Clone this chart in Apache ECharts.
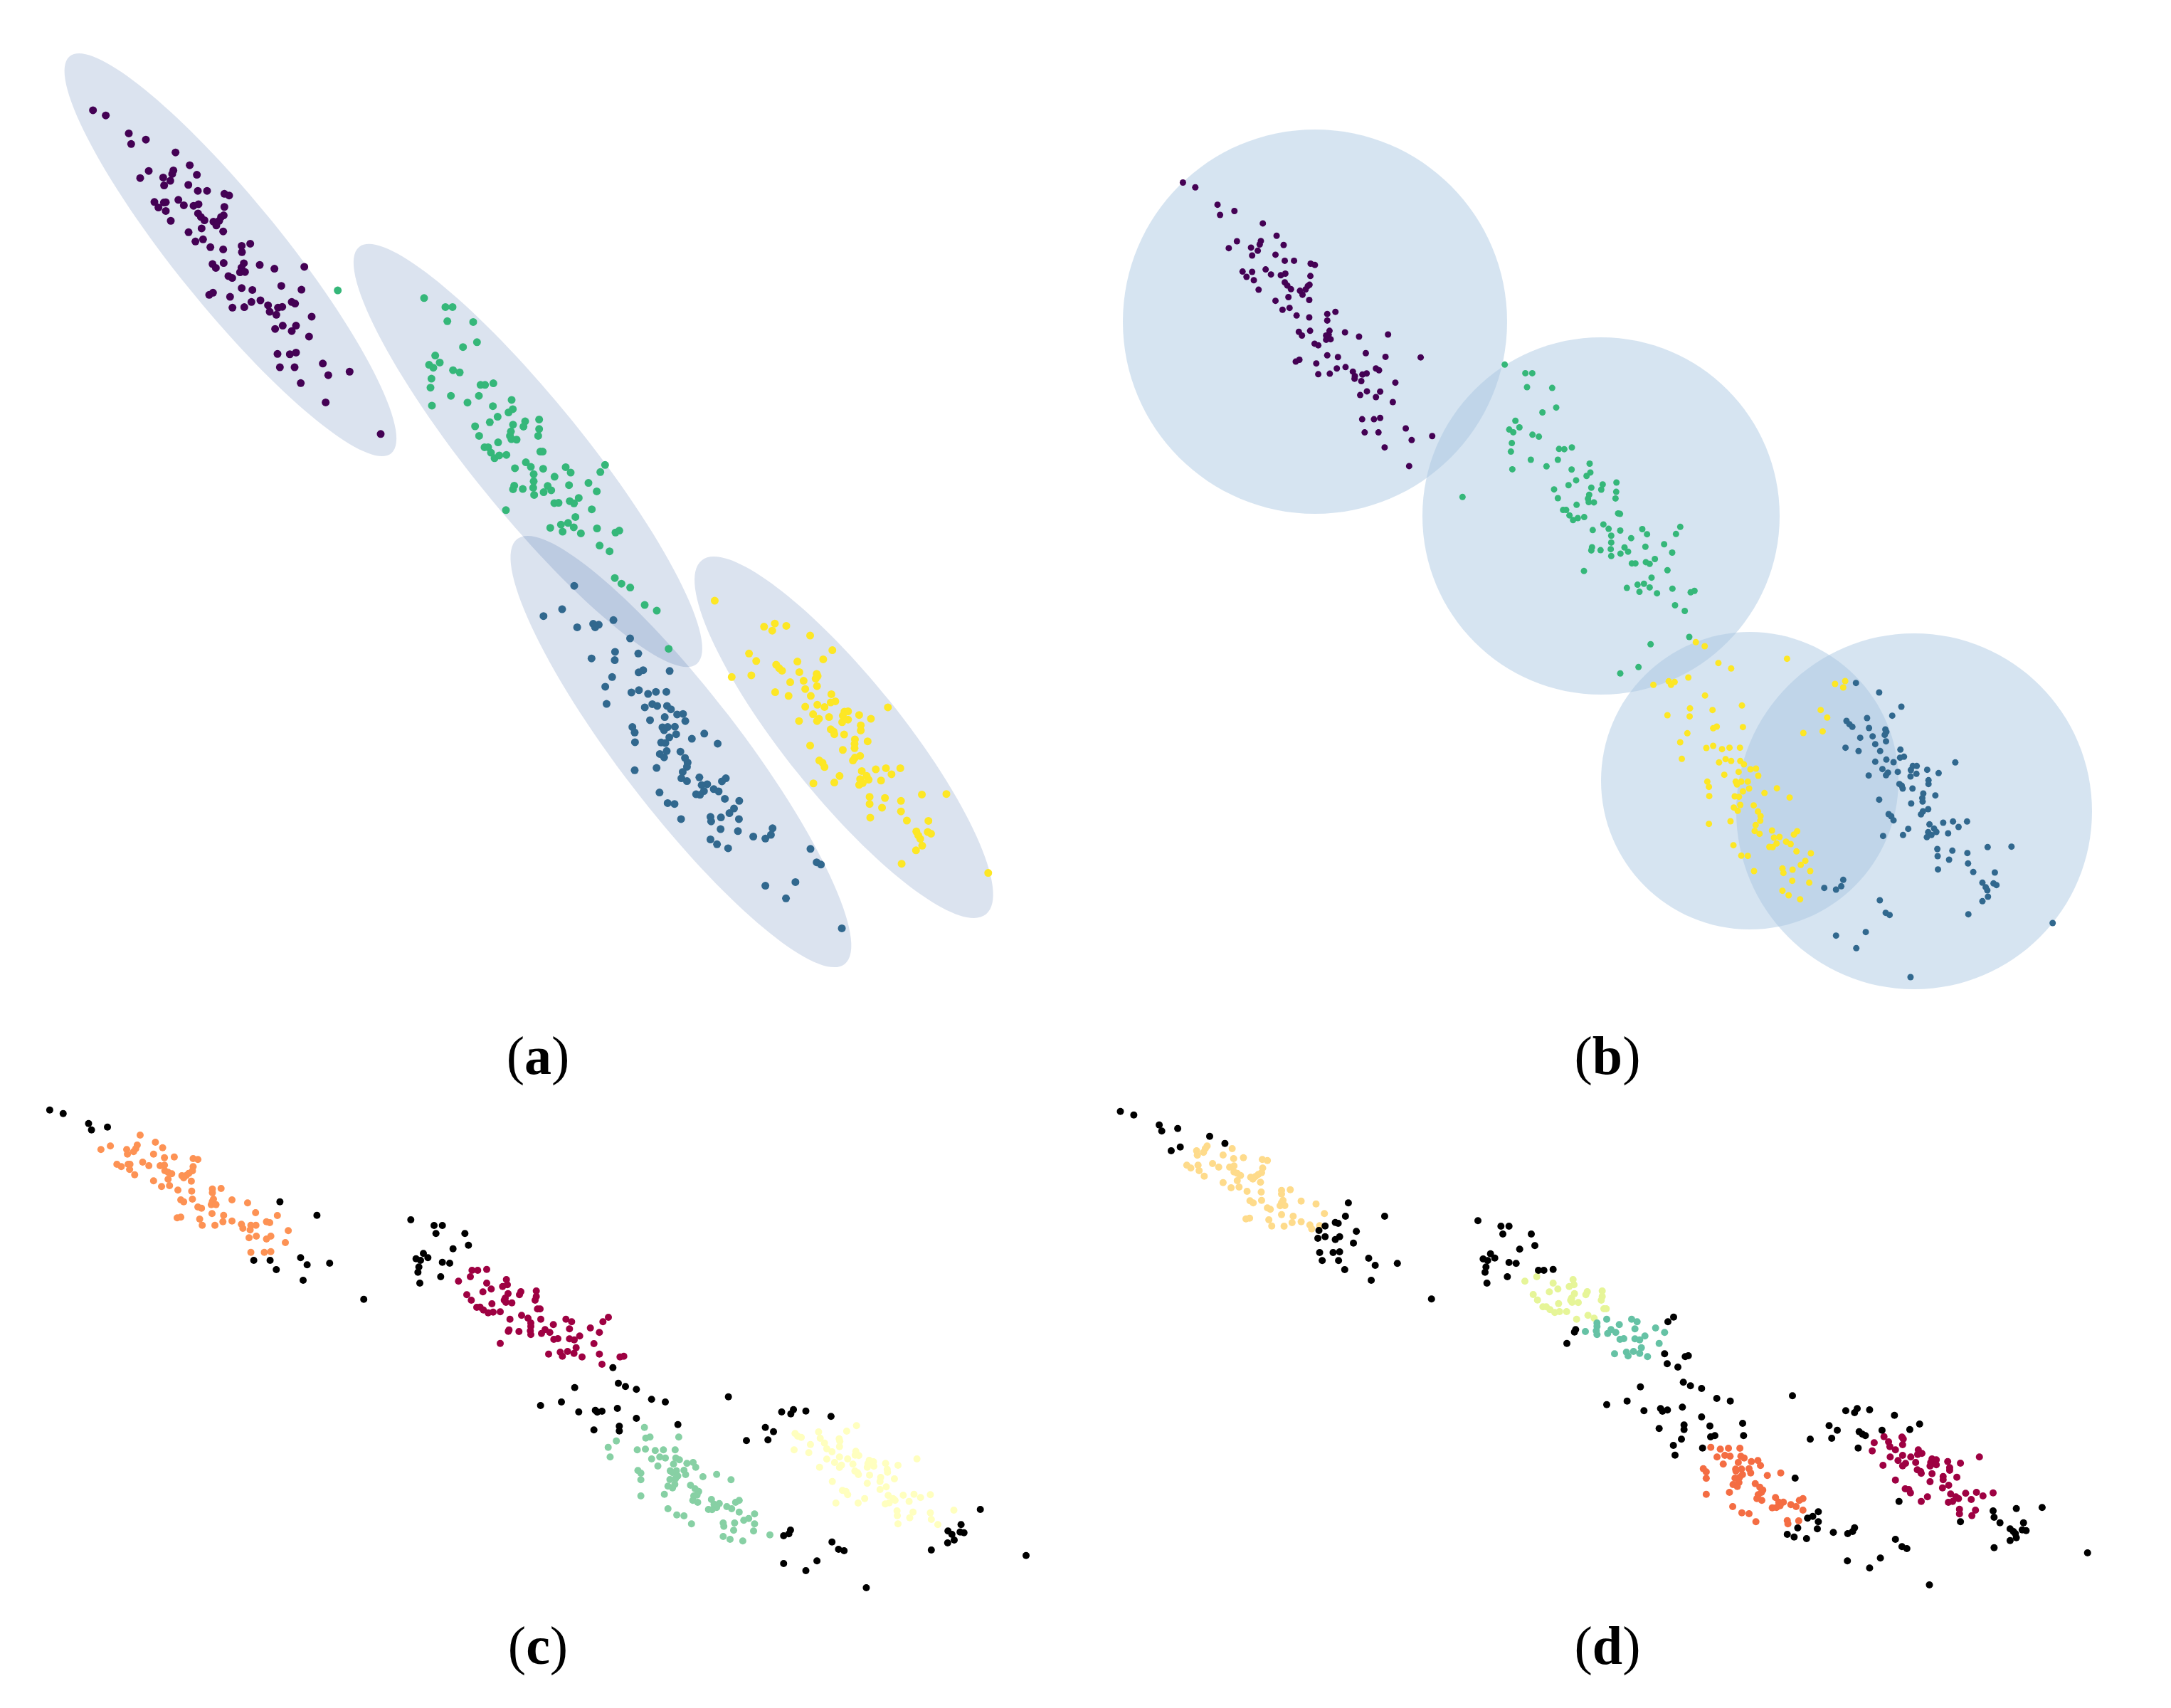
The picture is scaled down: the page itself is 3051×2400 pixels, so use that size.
<!DOCTYPE html>
<html>
<head>
<meta charset="utf-8">
<style>
html, body { margin: 0; padding: 0; background: #fff; }
#main { width: 3051px; height: 2400px; }
</style>
<script src="https://cdn.jsdelivr.net/npm/echarts@6/dist/echarts.min.js"></script>
</head>
<body>
<div id="main"></div>
<script>
// points were read from enlarged crops, so each list is in its crop's reading units
// [left, top, units per px across, units per px down]
const cropA1 = [80, 60, 3, 1568 / 600];
const cropA2 = [480, 330, 3, 1568 / 600];
const cropA3 = [700, 750, 1568 / 720, 1568 / 630];
const cropB1 = [1560, 170, 1568 / 620, 1568 / 580];
const cropB2 = [2000, 470, 3, 1568 / 540];
const cropB3 = [2240, 880, 1568 / 720, 3];
const cropC1 = [50, 1540, 1.96, 3];
const cropC2 = [560, 1700, 3, 3];
const cropC3 = [750, 1940, 1568 / 720, 3];
const cropD1 = [1550, 1540, 1.96, 3];
const cropD2 = [2050, 1700, 3, 3];
const cropD3 = [2250, 1940, 1568 / 720, 3];

// panel (a)
const aPurple = [[152,248],[206,267],[303,333],[375,356],[313,372],[500,403],[560,450],[590,485],[387,471],[351,497],[448,495],[491,469],[486,482],[478,507],[452,524],[554,522],[594,544],[633,544],[706,555],[726,561],[411,585],[428,605],[451,587],[459,586],[459,618],[512,577],[535,597],[576,599],[597,593],[706,603],[480,654],[595,627],[607,640],[622,652],[703,634],[692,640],[684,654],[660,657],[672,671],[610,682],[555,696],[701,693],[584,730],[616,722],[647,751],[701,759],[779,746],[815,738],[780,769],[656,813],[670,827],[703,809],[788,810],[778,826],[772,843],[793,842],[855,816],[917,830],[1043,823],[723,857],[739,864],[779,901],[824,908],[946,893],[1031,907],[642,926],[658,918],[730,933],[740,973],[790,971],[820,952],[858,946],[890,964],[897,988],[925,999],[932,973],[950,970],[990,952],[1004,958],[1074,1006],[920,1051],[952,1039],[990,1059],[1008,1039],[1063,1079],[930,1143],[982,1144],[1008,1138],[1121,1178],[940,1192],[1002,1192],[1144,1221],[1234,1208],[1028,1250],[1133,1321],[1365,1437]];
const aGreen = [[-16,204],[348,232],[438,265],[468,265],[446,317],[555,320],[571,394],[512,412],[395,443],[369,477],[387,488],[414,469],[470,497],[498,505],[379,528],[375,561],[586,551],[605,551],[640,545],[461,591],[579,591],[531,616],[381,627],[638,629],[717,606],[722,640],[704,652],[658,668],[625,688],[563,703],[580,738],[723,697],[774,685],[767,704],[833,678],[833,713],[829,738],[714,722],[710,738],[716,750],[738,752],[660,762],[603,780],[618,780],[630,800],[645,820],[665,810],[695,808],[838,796],[848,796],[777,835],[798,852],[731,857],[850,859],[945,853],[966,873],[898,888],[810,879],[810,905],[808,929],[812,955],[728,921],[723,934],[764,933],[869,922],[884,938],[852,945],[959,919],[1041,911],[1076,942],[1111,845],[1091,871],[897,985],[915,984],[962,978],[980,986],[1000,966],[1055,1008],[693,1011],[986,1036],[955,1058],[925,1064],[880,1076],[932,1090],[979,1074],[1009,1096],[1077,1078],[1155,1093],[1171,1086],[1088,1141],[1130,1162],[1152,1260],[1180,1281],[1217,1295],[1278,1359],[1329,1380],[1379,1520]];
const aBlue = [[233,182],[196,264],[139,288],[242,327],[291,315],[308,318],[297,327],[353,302],[404,366],[358,413],[429,419],[357,442],[286,436],[430,485],[444,477],[525,480],[349,501],[328,535],[408,555],[431,547],[459,560],[483,553],[515,553],[332,595],[449,607],[472,596],[487,602],[517,602],[529,614],[548,632],[566,630],[510,641],[573,655],[465,652],[411,676],[418,695],[503,677],[508,687],[519,676],[541,675],[545,701],[524,712],[593,717],[631,699],[672,734],[419,729],[499,730],[512,732],[558,762],[516,760],[495,770],[508,782],[572,784],[580,800],[578,815],[565,833],[485,819],[418,827],[561,855],[578,865],[616,852],[697,855],[685,866],[640,876],[623,879],[630,900],[660,893],[675,901],[606,911],[618,913],[494,905],[694,927],[738,934],[519,942],[540,945],[722,961],[708,977],[560,998],[650,990],[652,1006],[682,992],[737,998],[681,1033],[734,1040],[840,1030],[835,1053],[818,1066],[781,1059],[650,1069],[670,1086],[704,1100],[956,1102],[975,1149],[988,1157],[910,1218],[818,1231],[881,1275],[1052,1380]];
const aYellow = [[663,234],[814,325],[847,314],[839,339],[882,322],[955,356],[1023,407],[995,439],[768,419],[790,445],[916,447],[851,458],[860,470],[869,479],[922,484],[975,490],[978,498],[972,507],[715,501],[775,495],[894,519],[935,514],[976,533],[940,543],[848,554],[889,567],[957,567],[1020,561],[1032,586],[1018,590],[940,605],[977,598],[999,606],[1193,607],[964,631],[1060,622],[1071,621],[1055,636],[1105,634],[1141,647],[1071,650],[1053,659],[1013,641],[982,647],[976,655],[921,655],[1110,670],[1110,688],[1018,684],[1027,692],[1029,701],[1059,702],[1131,726],[1092,719],[1091,735],[1091,750],[955,741],[1055,756],[1108,777],[1092,783],[1086,793],[983,793],[993,801],[999,816],[1113,830],[1156,824],[1187,820],[1231,820],[1204,841],[1045,847],[1128,847],[1134,860],[1108,858],[1172,863],[1116,872],[1105,878],[965,873],[1029,870],[1137,920],[1184,924],[1137,945],[1233,934],[1297,912],[1372,910],[1175,958],[1233,971],[1139,993],[1251,1003],[1317,1004],[1280,1041],[1286,1055],[1292,1067],[1315,1043],[1325,1049],[1298,1091],[1279,1107],[1235,1154],[1500,1186]];

// panel (b)
const bPurple = [[259,234],[303,252],[382,318],[442,342],[391,357],[543,389],[592,436],[617,471],[451,457],[422,483],[501,481],[536,456],[532,469],[525,493],[505,511],[588,508],[621,531],[654,531],[713,542],[728,547],[471,572],[485,592],[505,573],[511,605],[553,564],[572,583],[607,586],[623,580],[712,589],[528,641],[621,613],[630,625],[643,639],[709,622],[703,627],[695,640],[684,660],[675,645],[634,669],[588,683],[708,680],[613,717],[638,710],[663,739],[708,746],[772,733],[801,725],[772,758],[671,801],[682,815],[711,797],[780,797],[777,812],[768,815],[768,831],[784,829],[835,803],[885,819],[988,811],[727,846],[740,852],[772,890],[810,897],[909,882],[979,896],[1104,898],[660,914],[673,907],[733,921],[740,962],[781,960],[806,940],[837,935],[863,952],[870,969],[869,979],[893,988],[897,963],[912,959],[945,940],[956,947],[1014,994],[889,1041],[913,1027],[945,1049],[960,1028],[1005,1068],[896,1133],[938,1133],[960,1128],[1051,1168],[905,1183],[954,1183],[1072,1212],[1145,1197],[976,1240],[1063,1311]];
const bGreen = [[344,123],[431,158],[460,158],[438,215],[544,218],[561,298],[503,318],[389,352],[363,388],[380,399],[406,379],[461,409],[488,417],[374,443],[370,478],[573,467],[595,468],[627,461],[454,511],[568,511],[520,538],[376,550],[626,551],[702,527],[705,563],[689,577],[645,595],[613,615],[552,632],[568,668],[709,625],[757,612],[751,633],[815,604],[814,642],[811,669],[700,654],[695,670],[698,684],[720,685],[647,695],[590,716],[603,716],[617,738],[632,757],[652,749],[679,745],[822,730],[830,732],[760,775],[782,793],[715,798],[831,800],[924,794],[944,815],[877,831],[793,821],[793,849],[791,876],[793,904],[712,868],[709,881],[748,880],[849,869],[864,886],[832,894],[937,866],[1016,856],[1050,890],[1084,785],[1066,814],[880,934],[895,934],[939,929],[955,936],[977,916],[1030,962],[678,965],[963,992],[931,1017],[904,1021],[859,1034],[912,1050],[955,1032],[986,1056],[1051,1037],[1128,1052],[1144,1046],[1062,1105],[1103,1128],[1122,1234],[959,1264],[908,1357],[831,1383],[166,663]];
const bYellow = [[312,67],[339,84],[591,137],[381,155],[420,178],[289,216],[182,247],[229,232],[236,247],[247,235],[340,292],[769,231],[738,243],[763,258],[453,334],[294,346],[363,353],[293,380],[225,375],[694,353],[714,385],[456,425],[376,423],[365,430],[286,451],[641,450],[700,443],[264,489],[344,513],[365,504],[392,518],[415,512],[447,512],[269,559],[383,574],[403,560],[420,568],[448,568],[459,582],[496,600],[479,603],[443,614],[399,626],[503,630],[347,655],[352,677],[434,655],[451,655],[471,655],[438,667],[475,684],[456,696],[560,683],[522,703],[599,722],[353,716],[431,717],[444,719],[448,753],[428,764],[440,778],[489,755],[502,781],[510,800],[509,820],[495,838],[352,833],[418,822],[492,863],[507,875],[545,861],[622,864],[612,878],[551,891],[568,888],[588,908],[602,918],[559,916],[537,930],[547,931],[427,923],[620,949],[664,957],[451,967],[471,968],[647,989],[633,1006],[490,1032],[577,1021],[580,1040],[608,1026],[662,1032],[607,1073],[659,1081],[577,1115],[596,1134],[631,1151]];
const bBlue = [[802,239],[873,279],[941,339],[913,377],[836,387],[773,399],[782,413],[791,424],[842,429],[892,435],[895,445],[890,458],[853,464],[815,470],[894,485],[861,497],[770,512],[810,526],[876,526],[938,520],[949,550],[937,554],[861,571],[895,562],[917,573],[1106,574],[976,589],[988,589],[970,606],[883,602],[900,617],[894,628],[930,614],[1020,605],[987,622],[969,633],[1055,619],[841,629],[1024,649],[1024,665],[935,665],[942,672],[945,684],[975,684],[1008,705],[1045,713],[1005,724],[1006,739],[873,731],[971,747],[1023,771],[1007,780],[1001,793],[902,792],[910,801],[917,818],[1027,835],[1069,828],[1099,823],[1142,823],[1116,846],[962,854],[1041,853],[1048,867],[1023,868],[1084,873],[885,884],[946,880],[1033,880],[1019,889],[1051,939],[1097,946],[1143,956],[1205,931],[1278,929],[1052,969],[1087,984],[1145,1000],[1053,1025],[1161,1036],[1227,1038],[763,1069],[757,1096],[741,1110],[705,1103],[1189,1081],[1199,1100],[1204,1113],[1223,1084],[1232,1091],[1206,1140],[1189,1159],[875,1155],[893,1208],[905,1217],[1146,1214],[1404,1251],[832,1289],[741,1304],[803,1357],[969,1479]];

// panel (c)
const cOrange = [[288,165],[330,195],[350,218],[180,226],[206,211],[251,226],[280,207],[276,222],[270,235],[253,245],[325,245],[355,260],[382,257],[434,264],[447,268],[224,288],[236,298],[255,288],[260,288],[259,310],[295,279],[312,294],[343,294],[355,292],[434,298],[356,315],[365,322],[375,328],[432,316],[422,326],[415,335],[403,336],[408,345],[273,332],[429,359],[325,358],[365,351],[347,382],[369,378],[392,397],[430,401],[487,392],[487,408],[511,390],[400,438],[408,446],[432,435],[490,435],[487,445],[484,458],[497,458],[541,438],[584,451],[447,468],[457,473],[486,496],[606,492],[518,503],[666,504],[390,514],[400,511],[452,519],[459,545],[494,545],[516,530],[541,527],[636,530],[645,534],[567,541],[571,558],[593,545],[607,545],[591,565],[696,568],[588,598],[608,591],[648,591],[636,603],[688,618],[593,659],[630,659],[648,656]];
const cCrimson = [[310,255],[334,255],[372,251],[303,282],[253,301],[455,294],[372,309],[459,316],[439,323],[391,334],[356,346],[288,358],[462,353],[516,345],[510,358],[581,342],[581,365],[576,381],[450,372],[446,381],[453,390],[478,392],[307,381],[394,396],[330,411],[344,410],[358,422],[378,434],[399,431],[429,430],[586,418],[597,418],[470,461],[519,445],[546,457],[600,461],[706,461],[730,472],[558,477],[558,491],[653,484],[721,502],[809,498],[862,472],[885,453],[463,512],[466,506],[508,513],[556,510],[558,526],[618,505],[603,521],[638,517],[847,517],[764,532],[655,546],[672,543],[721,544],[741,548],[824,564],[429,563],[749,581],[633,608],[682,600],[691,617],[713,597],[740,605],[774,620],[847,608],[934,620],[950,617],[858,651]];
const cGreen = [[339,197],[444,238],[343,242],[356,238],[253,254],[228,281],[317,292],[342,289],[372,295],[397,292],[433,292],[234,322],[361,330],[386,322],[403,326],[435,326],[446,334],[428,352],[469,349],[488,345],[496,365],[380,360],[319,379],[328,390],[418,380],[425,388],[437,380],[460,378],[465,396],[441,402],[328,418],[417,417],[434,413],[518,405],[560,395],[604,418],[411,445],[432,437],[425,452],[480,441],[494,456],[505,467],[400,479],[328,486],[490,486],[500,482],[487,505],[502,513],[544,501],[552,521],[568,518],[629,505],[618,513],[591,531],[606,540],[560,535],[535,543],[546,544],[411,540],[629,554],[676,562],[658,581],[643,589],[438,566],[460,570],[483,604],[580,600],[582,614],[615,600],[676,604],[612,631],[673,634],[580,657],[601,669],[640,676],[723,650]];
const cPale = [[988,190],[958,213],[872,216],[800,223],[808,234],[819,239],[877,243],[935,245],[937,256],[936,278],[847,269],[890,263],[897,287],[797,292],[842,304],[913,300],[986,298],[984,314],[995,316],[936,322],[897,331],[961,330],[1173,330],[921,345],[977,352],[942,356],[936,366],[875,365],[1027,336],[1040,342],[1023,350],[1041,361],[1021,365],[1077,349],[1115,357],[1082,374],[1083,386],[983,381],[991,388],[994,396],[1028,398],[1104,414],[1062,408],[1060,425],[1021,433],[914,425],[1079,448],[1060,459],[945,463],[956,467],[961,481],[1013,497],[1085,484],[1131,483],[1164,479],[1214,481],[1184,493],[1149,509],[1100,497],[1106,505],[1088,515],[1076,520],[925,516],[993,516],[1112,549],[1161,554],[1214,557],[1113,569],[1286,546],[1151,578],[1217,585],[1115,604],[1237,607]];
const cBlack1 = [[39,59],[76,74],[146,116],[154,143],[198,131],[673,446],[775,503],[601,693],[646,693],[730,682],[748,712],[810,705],[663,732],[737,777],[904,857]];
const cBlack2 = [[52,42],[150,66],[185,66],[158,100],[280,100],[295,149],[230,164],[105,184],[74,206],[93,213],[124,202],[185,221],[216,225],[86,241],[82,263],[178,282],[90,309],[904,665],[743,749],[927,731],[957,745],[1003,757],[1067,799],[1125,810],[1391,788],[599,825],[687,810],[760,852],[830,845],[838,853],[858,849],[923,837],[1003,879],[1178,905],[931,912],[931,932],[824,928],[1467,973]];
const cBlack3 = [[759,132],[787,140],[795,122],[833,128],[910,151],[709,197],[734,215],[717,250],[1367,543],[1308,607],[1268,634],[1280,648],[1287,672],[1267,684],[1305,638],[1317,641],[1217,714],[1507,737],[786,630],[781,646],[765,654],[913,680],[933,711],[950,717],[867,760],[765,771],[833,801],[1018,873]];

// panel (d)
const dPeach = [[356,222],[258,231],[287,211],[282,222],[277,238],[260,250],[331,249],[360,264],[387,260],[439,268],[453,272],[231,292],[242,304],[262,292],[265,315],[302,285],[319,300],[349,300],[361,295],[440,304],[361,320],[370,326],[379,335],[437,323],[428,331],[420,340],[407,343],[413,350],[279,338],[434,364],[331,365],[370,357],[353,387],[375,384],[397,402],[436,405],[492,398],[492,413],[516,395],[405,442],[414,451],[437,440],[496,440],[492,450],[488,463],[501,462],[546,443],[587,455],[453,472],[461,478],[492,500],[610,496],[524,507],[394,518],[404,515],[457,522],[465,548],[499,549],[521,534],[546,530],[570,544],[575,560],[597,547]];
const dLime = [[279,301],[329,282],[398,309],[482,294],[486,316],[466,323],[418,334],[382,346],[314,357],[488,353],[542,345],[536,358],[605,342],[605,365],[601,381],[476,372],[472,381],[478,390],[504,391],[332,380],[421,395],[355,409],[369,409],[385,421],[405,433],[425,429],[455,429],[612,417],[622,417],[497,461],[545,445],[571,457]];
const dTeal = [[624,461],[729,461],[752,472],[583,477],[583,491],[677,484],[743,502],[830,498],[534,513],[580,510],[583,526],[642,505],[628,521],[662,517],[868,517],[785,532],[680,546],[696,543],[743,544],[763,548],[845,563],[770,581],[657,607],[707,600],[714,616],[737,597],[763,605],[796,619]];
const dRed = [[336,281],[365,289],[390,285],[425,285],[355,322],[379,315],[395,319],[428,319],[438,326],[460,341],[480,337],[488,358],[420,345],[374,352],[313,371],[322,385],[412,373],[430,373],[413,381],[453,371],[458,389],[433,396],[550,389],[509,400],[322,412],[410,411],[424,408],[422,430],[404,438],[417,446],[472,434],[486,449],[495,461],[393,471],[322,479],[491,471],[481,481],[477,497],[492,505],[534,493],[544,512],[558,512],[618,497],[607,505],[581,523],[597,531],[618,546],[548,527],[537,535],[524,536],[403,531],[431,557],[453,561],[474,595],[570,590],[572,604],[605,591]];
const dCrimson = [[866,236],[921,238],[925,246],[923,270],[836,262],[880,258],[884,278],[901,292],[830,296],[971,292],[969,311],[982,307],[923,315],[885,322],[948,322],[1158,322],[909,337],[932,349],[923,359],[963,345],[863,357],[1013,330],[1026,334],[1009,345],[1026,355],[1007,360],[1061,341],[1100,348],[1067,367],[1067,378],[968,376],[978,383],[980,391],[1013,392],[1089,407],[1047,404],[1047,418],[1007,426],[901,419],[1064,441],[1045,452],[931,456],[942,459],[947,473],[999,490],[1070,478],[1116,475],[1149,471],[1200,473],[1169,486],[1133,501],[1086,490],[1094,497],[1076,509],[1063,513],[980,509],[1097,542],[1146,546],[1097,562],[1135,569]];
const dBlack1 = [[48,65],[85,80],[155,122],[162,148],[206,137],[294,170],[336,200],[213,215],[188,231],[676,451],[668,507],[776,507],[640,533],[648,537],[612,548],[595,567],[698,571],[592,600],[612,593],[652,593],[640,605],[690,620],[597,660],[634,660],[652,657],[604,694],[649,694],[732,684],[750,714],[811,706],[666,732],[739,777],[905,856]];
const dBlack2 = [[81,46],[178,69],[212,69],[186,102],[306,102],[321,151],[257,166],[134,185],[103,207],[122,214],[152,203],[212,222],[242,226],[115,241],[111,263],[205,282],[119,309],[336,255],[359,255],[398,251],[906,452],[882,472],[493,505],[488,515],[456,563],[868,607],[955,619],[968,615],[879,649],[924,663],[947,727],[977,742],[1024,753],[766,746],[1088,795],[1145,806],[1407,784],[624,821],[710,806],[781,847],[851,838],[859,849],[880,844],[943,832],[1024,873],[1197,900],[1059,911],[950,907],[950,926],[845,922],[1201,952],[1062,957],[1080,952],[1482,967],[939,967],[905,993],[1028,1004],[912,1034]];
const dBlack3 = [[594,411],[602,621],[570,648],[591,659],[629,666],[632,580],[648,572],[665,553],[665,595],[662,625],[711,640],[755,645],[770,636],[776,620],[698,190],[723,209],[706,243],[749,127],[776,135],[784,118],[822,123],[898,146],[790,215],[800,226],[809,232],[860,209],[945,206],[975,183],[787,284],[912,509],[1200,549],[1271,539],[1350,535],[1203,576],[1221,599],[1293,599],[1100,595],[1252,625],[1262,636],[1268,645],[1289,629],[1301,632],[1271,662],[1252,674],[1203,704],[1489,726],[901,669],[921,700],[936,708],[855,748],[754,760],[822,790],[1005,861]];

// cluster outlines: centre x, centre y, semi axis long, semi axis short, tilt in degrees
const aEllipses = [[324,358,359,75,51],[742,640,377,79,51],[957,1056,377,84,52.4],[1186,1036,319,82,51.2]];
const bCircles = [[1848,452,270,270,0],[2250,725,251,251,0],[2459,1097,209,209,0],[2690,1140,250,250,0]];

const panelLabels = ['a', 'b', 'c', 'd'];

function place(points, crop) {
    return points.map(p => [crop[0] + p[0] / crop[2], crop[1] + p[1] / crop[3]]);
}

function dots(points, color, size) {
    return {
        type: 'scatter',
        data: points,
        symbolSize: size,
        itemStyle: { color: color, opacity: 1 },
        silent: true,
        z: 5
    };
}

function outlines(rows, color) {
    return {
        type: 'custom',
        data: rows,
        silent: true,
        z: 2,
        clip: false,
        encode: { x: 0, y: 1 },
        renderItem: function (params, api) {
            const c = api.coord([api.value(0), api.value(1)]);
            const s = api.size([api.value(2), api.value(3)]);
            return {
                type: 'ellipse',
                x: c[0],
                y: c[1],
                rotation: -api.value(4) * Math.PI / 180,
                shape: { cx: 0, cy: 0, rx: s[0], ry: s[1] },
                style: { fill: color }
            };
        }
    };
}

const labelSpots = [[751, 1484], [2254, 1484], [751, 2313], [2254, 2313]];
const labels = panelLabels.map((name, i) => ({
    text: '{n|(}{b|' + name + '}{n|)}',
    left: labelSpots[i][0],
    top: labelSpots[i][1],
    textAlign: 'center',
    textVerticalAlign: 'middle',
    textStyle: {
        fontWeight: 'normal',
        rich: {
            n: { fontFamily: 'Liberation Serif', fontSize: 76, fontWeight: 'normal', color: '#000' },
            b: { fontFamily: 'Liberation Serif', fontSize: 76, fontWeight: 'bold', color: '#000' }
        }
    }
}));

const chart = echarts.init(document.getElementById('main'));
chart.setOption({
    animation: false,
    backgroundColor: '#fff',
    title: labels,
    tooltip: { show: false },
    grid: { left: 0, top: 0, width: 3051, height: 2400 },
    xAxis: { type: 'value', min: 0, max: 3051, show: false },
    yAxis: { type: 'value', min: 0, max: 2400, inverse: true, show: false },
    series: [
        outlines(aEllipses, 'rgba(0,55,141,0.14)'),
        outlines(bCircles, 'rgba(166,196,225,0.46)'),
        dots(place(aPurple, cropA1), '#440154', 11),
        dots(place(aGreen, cropA2), '#35b779', 11),
        dots(place(aBlue, cropA3), '#31688e', 11),
        dots(place(aYellow, cropA3), '#fde725', 11),
        dots(place(bPurple, cropB1), '#440154', 9),
        dots(place(bGreen, cropB2), '#35b779', 9),
        dots(place(bYellow, cropB3), '#fde725', 9),
        dots(place(bBlue, cropB3), '#31688e', 9),
        dots(place(cOrange, cropC1), '#fd9254', 10),
        dots(place(cCrimson, cropC2), '#9e0142', 10),
        dots(place(cGreen, cropC3), '#87d0a4', 10),
        dots(place(cPale, cropC3), '#ffffbf', 10),
        dots(place(cBlack1, cropC1).concat(place(cBlack2, cropC2), place(cBlack3, cropC3)), '#000', 10),
        dots(place(dPeach, cropD1), '#fedb8b', 10),
        dots(place(dLime, cropD2), '#e6f598', 10),
        dots(place(dTeal, cropD2), '#66c2a5', 10),
        dots(place(dRed, cropD3), '#f46d43', 10),
        dots(place(dCrimson, cropD3), '#9e0142', 10),
        dots(place(dBlack1, cropD1).concat(place(dBlack2, cropD2), place(dBlack3, cropD3)), '#000', 10)
    ]
});

window.onresize = function () {
    chart.resize();
};
</script>
</body>
</html>
